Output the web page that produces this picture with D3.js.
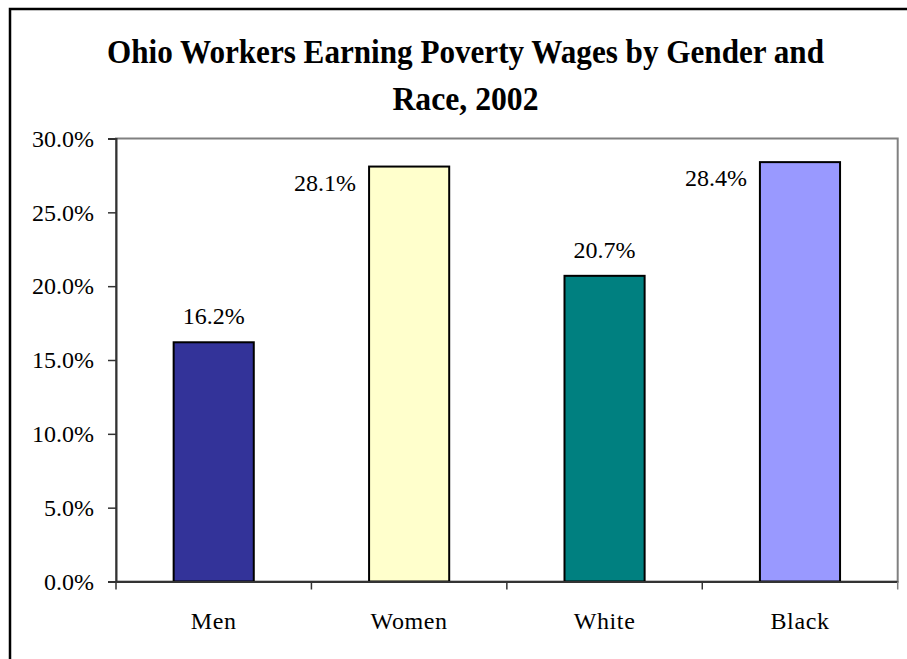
<!DOCTYPE html>
<html>
<head>
<meta charset="utf-8">
<script src="https://cdn.jsdelivr.net/npm/d3@7"></script>
<style>
  html, body { margin: 0; padding: 0; background: #fff; }
  svg { display: block; }
  svg text { font-family: "Liberation Serif", "Times New Roman", Times, "DejaVu Serif", "Noto Serif", serif !important; fill: #000; }
</style>
</head>
<body>
<svg id="chart" width="907" height="659"></svg>
<script>
// Share of Ohio workers earning poverty wages, 2002
const categories = ["Men", "Women", "White", "Black"];
const values = [0.162, 0.281, 0.207, 0.284];
const barColors = ["#333399", "#FFFFCC", "#008080", "#9999FF"];
const yTicks = [0, 0.05, 0.10, 0.15, 0.20, 0.25, 0.30];
const titleLines = ["Ohio Workers Earning Poverty Wages by Gender and", "Race, 2002"];

const serif = "'Liberation Serif', 'Times New Roman', Times, 'DejaVu Serif', 'Noto Serif', serif";

const svg = d3.select("#chart");
const plot = { left: 116, right: 897.7, top: 138.5, bottom: 581.5 };

// outer chart border (runs off the right and bottom edges)
svg.append("rect")
  .attr("x", 10).attr("y", 9)
  .attr("width", 920).attr("height", 680)
  .attr("fill", "#fff").attr("stroke", "#000").attr("stroke-width", 2.5);

// title, two centred lines in a narrow bold face
const titleX = 465.5;
svg.append("text")
  .attr("x", titleX).attr("y", 62.5)
  .attr("text-anchor", "middle")
  .attr("font-family", serif)
  .attr("font-size", 34).attr("font-weight", "bold")
  .attr("textLength", 717).attr("lengthAdjust", "spacingAndGlyphs")
  .text(titleLines[0]);
svg.append("text")
  .attr("x", titleX).attr("y", 110)
  .attr("text-anchor", "middle")
  .attr("font-family", serif)
  .attr("font-size", 34).attr("font-weight", "bold")
  .attr("textLength", 146).attr("lengthAdjust", "spacingAndGlyphs")
  .text(titleLines[1]);

// scales
const x = d3.scaleBand()
  .domain(categories)
  .range([plot.left, plot.right])
  .paddingInner(0.59)
  .paddingOuter(0.295);

const y = d3.scaleLinear()
  .domain([0, 0.30])
  .range([plot.bottom, plot.top]);

// plot area frame
svg.append("rect")
  .attr("x", plot.left).attr("y", plot.top)
  .attr("width", plot.right - plot.left).attr("height", plot.bottom - plot.top)
  .attr("fill", "none").attr("stroke", "#808080").attr("stroke-width", 2);

// bars
svg.append("g").selectAll("rect")
  .data(categories)
  .join("rect")
  .attr("x", d => x(d))
  .attr("y", (d, i) => y(values[i]))
  .attr("width", x.bandwidth())
  .attr("height", (d, i) => y(0) - y(values[i]))
  .attr("fill", (d, i) => barColors[i])
  .attr("stroke", "#000")
  .attr("stroke-width", 2);

// y axis
const yAxis = svg.append("g")
  .attr("transform", `translate(${plot.left},0)`)
  .call(d3.axisLeft(y).tickValues(yTicks).tickFormat(d3.format(".1%")).tickSize(8).tickPadding(14))
  .attr("font-family", serif).attr("font-size", 24);
yAxis.select(".domain").attr("stroke", "#333").attr("stroke-width", 2);
yAxis.selectAll(".tick line").attr("stroke", "#333").attr("stroke-width", 1.5);
yAxis.selectAll(".tick text").attr("fill", "#000");

// x axis: labels at band centres, tick marks on band boundaries
const xAxis = svg.append("g")
  .attr("transform", `translate(0,${plot.bottom})`)
  .call(d3.axisBottom(x).tickSize(0).tickPadding(30))
  .attr("font-family", serif).attr("font-size", 24);
xAxis.select(".domain").attr("stroke", "#333").attr("stroke-width", 2);
xAxis.selectAll(".tick text").attr("fill", "#000").attr("letter-spacing", 0.6);

const boundaries = d3.range(categories.length + 1).map(i => x.range()[0] + i * x.step());
xAxis.selectAll(".bound")
  .data(boundaries)
  .join("line")
  .attr("class", "bound")
  .attr("x1", d => d).attr("x2", d => d)
  .attr("y1", 0).attr("y2", 8)
  .attr("stroke", (d, i) => i === boundaries.length - 1 ? "#808080" : "#333")
  .attr("stroke-width", 1.5);

// value labels: above the bar, or beside it when there is no room above
const fmt = d3.format(".1%");
svg.append("g")
  .attr("font-family", serif).attr("font-size", 24)
  .selectAll("text")
  .data(categories)
  .join("text")
  .each(function (d, i) {
    const top = y(values[i]);
    const sel = d3.select(this).text(fmt(values[i]));
    if (top - 18 - 17 < plot.top) {
      sel.attr("x", x(d) - 13).attr("y", top + 24).attr("text-anchor", "end");
    } else {
      sel.attr("x", x(d) + x.bandwidth() / 2).attr("y", top - 18).attr("text-anchor", "middle");
    }
  });
</script>
</body>
</html>
